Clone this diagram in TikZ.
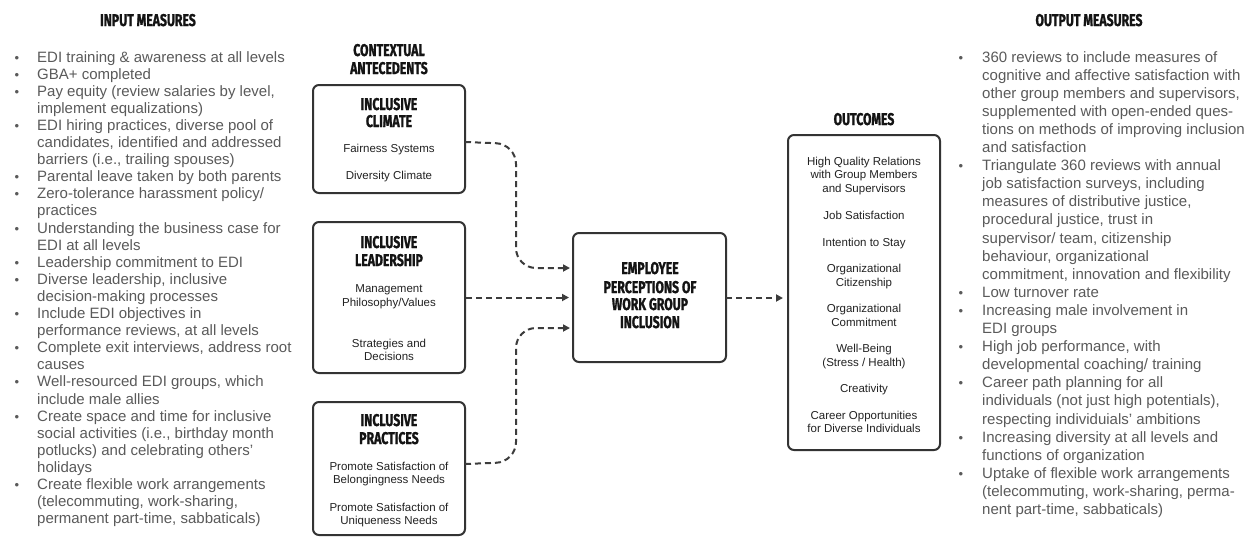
\documentclass[tikz,border=0pt]{standalone}
\usepackage{fontspec}
\setmainfont{Liberation Sans}
\newfontfamily\hdfont[FakeStretch=0.72,FakeBold=1.2]{Fira Sans}
\usetikzlibrary{arrows.meta}
\definecolor{listgray}{HTML}{5A5A5A}
\definecolor{boxtext}{HTML}{222222}
\definecolor{headc}{HTML}{141414}
\definecolor{boxline}{HTML}{333333}
\definecolor{conncol}{HTML}{3C3C3C}
\tikzset{
 lst/.style={font=\fontsize{15}{17}\selectfont, text=listgray, inner sep=0pt, anchor=base west},
 bul/.style={font=\fontsize{13}{14}\selectfont, text=listgray, inner sep=0pt, anchor=base},
 hd/.style={font=\hdfont\bfseries\fontsize{17}{18}\selectfont, text=headc, inner sep=0pt, anchor=base},
 bt/.style={font=\fontsize{11.5}{13}\selectfont, text=boxtext, inner sep=0pt, anchor=base},
 box/.style={draw=boxline, line width=2pt, rounded corners=6pt, inner sep=0pt},
 conn/.style={draw=conncol, line width=2pt, dash pattern=on 6pt off 4pt, rounded corners=20pt, -{Triangle[length=7pt,width=7pt]}}
}
\begin{document}
\begin{tikzpicture}[x=1pt,y=-1pt]
\useasboundingbox (0,0) rectangle (1248,552);
\fill[white] (0,0) rectangle (1248,552);
% headings
\node[hd] (inh) at (148,26) {INPUT MEASURES};
\node[hd] (outh) at (1089,26) {OUTPUT MEASURES};
\node[hd] (ctx1) at (389,56) {CONTEXTUAL};
\node[hd] (ctx2) at (389,74) {ANTECEDENTS};
\node[hd] (outch) at (864,125) {OUTCOMES};
% left list
\foreach \bb/\txt [count=\i] in {
 1/{EDI training \& awareness at all levels},
 1/{GBA+ completed},
 1/{Pay equity (review salaries by level,},
 0/{implement equalizations)},
 1/{EDI hiring practices, diverse pool of},
 0/{candidates, identified and addressed},
 0/{barriers (i.e., trailing spouses)},
 1/{Parental leave taken by both parents},
 1/{Zero-tolerance harassment policy/},
 0/{practices},
 1/{Understanding the business case for},
 0/{EDI at all levels},
 1/{Leadership commitment to EDI},
 1/{Diverse leadership, inclusive},
 0/{decision-making processes},
 1/{Include EDI objectives in},
 0/{performance reviews, at all levels},
 1/{Complete exit interviews, address root},
 0/{causes},
 1/{Well-resourced EDI groups, which},
 0/{include male allies},
 1/{Create space and time for inclusive},
 0/{social activities (i.e., birthday month},
 0/{potlucks) and celebrating others’},
 0/{holidays},
 1/{Create flexible work arrangements},
 0/{(telecommuting, work-sharing,},
 0/{permanent part-time, sabbaticals)}}{
 \pgfmathsetmacro\yy{62+(\i-1)*17.1}
 \node[lst] (L\i) at (37,\yy) {\txt};
 \ifnum\bb=1 \node[bul] (LB\i) at (17,\yy) {•};\fi
}
% right list
\foreach \bb/\txt [count=\i] in {
 1/{360 reviews to include measures of},
 0/{cognitive and affective satisfaction with},
 0/{other group members and supervisors,},
 0/{supplemented with open-ended ques-},
 0/{tions on methods of improving inclusion},
 0/{and satisfaction},
 1/{Triangulate 360 reviews with annual},
 0/{job satisfaction surveys, including},
 0/{measures of distributive justice,},
 0/{procedural justice, trust in},
 0/{supervisor/ team, citizenship},
 0/{behaviour, organizational},
 0/{commitment, innovation and flexibility},
 1/{Low turnover rate},
 1/{Increasing male involvement in},
 0/{EDI groups},
 1/{High job performance, with},
 0/{developmental coaching/ training},
 1/{Career path planning for all},
 0/{individuals (not just high potentials),},
 0/{respecting individuials’ ambitions},
 1/{Increasing diversity at all levels and},
 0/{functions of organization},
 1/{Uptake of flexible work arrangements},
 0/{(telecommuting, work-sharing, perma-},
 0/{nent part-time, sabbaticals)}}{
 \pgfmathsetmacro\yy{62+(\i-1)*18.1}
 \node[lst] (R\i) at (982,\yy) {\txt};
 \ifnum\bb=1 \node[bul] (RB\i) at (961,\yy) {•};\fi
}
% boxes
\node[box, minimum width=152pt, minimum height=108pt] (clim) at (389,139) {};
\node[box, minimum width=152pt, minimum height=151pt] (lead) at (389,297.5) {};
\node[box, minimum width=152pt, minimum height=133pt] (prac) at (389,468.5) {};
\node[box, minimum width=153pt, minimum height=129pt] (emp) at (649.5,297.5) {};
\node[box, minimum width=152pt, minimum height=315pt] (outc) at (864,292.5) {};
% climate
\node[hd] (c1) at (389,110) {INCLUSIVE};
\node[hd] (c2) at (389,127) {CLIMATE};
\node[bt] (c3) at (389,152) {Fairness Systems};
\node[bt] (c4) at (389,179) {Diversity Climate};
% leadership
\node[hd] (l1) at (389,248) {INCLUSIVE};
\node[hd] (l2) at (389,266) {LEADERSHIP};
\node[bt] (l3) at (389,292) {Management};
\node[bt] (l4) at (389,306) {Philosophy/Values};
\node[bt] (l5) at (389,347) {Strategies and};
\node[bt] (l6) at (389,360) {Decisions};
% practices
\node[hd] (p1) at (389,426) {INCLUSIVE};
\node[hd] (p2) at (389,444) {PRACTICES};
\node[bt] (p3) at (389,470) {Promote Satisfaction of};
\node[bt] (p4) at (389,483) {Belongingness Needs};
\node[bt] (p5) at (389,511) {Promote Satisfaction of};
\node[bt] (p6) at (389,524) {Uniqueness Needs};
% center
\node[hd] (e1) at (650,274) {EMPLOYEE};
\node[hd] (e2) at (650,293) {PERCEPTIONS OF};
\node[hd] (e3) at (650,310) {WORK GROUP};
\node[hd] (e4) at (650,328) {INCLUSION};
% outcomes
\foreach \txt/\yy [count=\i] in {
 {High Quality Relations}/165, {with Group Members}/178, {and Supervisors}/192,
 {Job Satisfaction}/219, {Intention to Stay}/246,
 {Organizational}/272, {Citizenship}/286,
 {Organizational}/312, {Commitment}/326,
 {Well-Being}/352, {(Stress / Health)}/366,
 {Creativity}/392,
 {Career Opportunities}/419, {for Diverse Individuals}/432}{
 \node[bt] (o\i) at (864,\yy) {\txt};
}
% connectors
\coordinate (climout) at (465,142);
\coordinate (pracout) at (465,464);
\coordinate (empin1) at (570,268);
\coordinate (empin3) at (570,328);
\coordinate (outin) at (783,298);
\coordinate (empout) at (726,298);
\draw[conn] (climout) -- (516,144) -- (516,268) -- (empin1);
\draw[conn] (pracout) -- (516,462) -- (516,328) -- (empin3);
\draw[conn, shorten >=3pt] (lead.east) -- (emp.west);
\draw[conn] (empout) -- (outin);
\end{tikzpicture}
\end{document}
